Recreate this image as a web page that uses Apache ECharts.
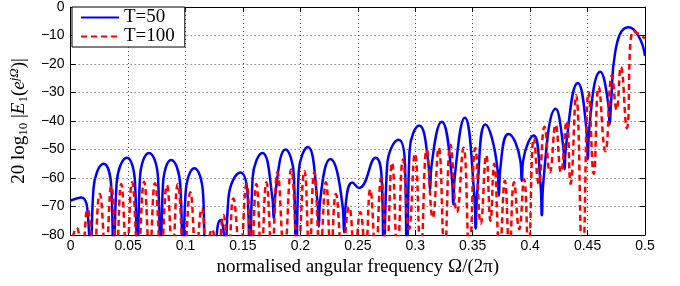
<!DOCTYPE html>
<html>
<head>
<meta charset="utf-8">
<script src="https://cdn.jsdelivr.net/npm/echarts@6/dist/echarts.min.js"></script>
<style>
html, body { margin: 0; padding: 0; background: #fff; }
#main { width: 680px; height: 286px; }
</style>
</head>
<body>
<div id="main"></div>
<script>
// legend names
var seriesNames = ['T=50', 'T=100'];

// T=50 : [normalised frequency, dB] (nulls below -80 are clipped)
var t50 = [
    [0, -67.9], [0.0092, -66.8], [0.0155, -75.8], [0.0173, -95],
    [0.0198, -64], [0.0288, -55], [0.0355, -64], [0.0374, -95],
    [0.0400, -62], [0.0490, -52.9], [0.0561, -62], [0.0581, -95],
    [0.0603, -60.2], [0.0682, -51.2], [0.0761, -60.2], [0.0783, -95],
    [0.0803, -62.7], [0.0875, -53.7], [0.0955, -62.7], [0.0978, -95],
    [0.1000, -65.6], [0.1077, -56.6], [0.1153, -65.6], [0.1175, -95],
    [0.1262, -95], [0.1272, -80], [0.1302, -74.8], [0.1334, -80], [0.1345, -95],
    [0.1374, -67], [0.1479, -58.1], [0.1542, -67], [0.1560, -95],
    [0.1584, -60], [0.1669, -51.2], [0.1756, -67], [0.1768, -74.2], [0.1781, -66],
    [0.1871, -50], [0.1943, -59], [0.1963, -95],
    [0.1985, -58], [0.2064, -49.1], [0.2148, -68], [0.2160, -77], [0.2172, -68],
    [0.2260, -53.3], [0.2368, -70], [0.2381, -79], [0.2393, -70],
    [0.2453, -61.6], [0.2510, -63.5], [0.2654, -52.9], [0.2710, -62], [0.2726, -95],
    [0.2755, -55.6], [0.2856, -46.6], [0.2911, -55.6], [0.2927, -95],
    [0.2950, -50.6], [0.3034, -41.6], [0.3117, -56], [0.3129, -63.9], [0.3141, -56],
    [0.3230, -40.3], [0.3319, -60], [0.3331, -69.3], [0.3343, -60],
    [0.3431, -38.9], [0.3514, -66], [0.3526, -77.7], [0.3538, -66],
    [0.3610, -41.2], [0.3716, -57], [0.3728, -66.2], [0.3740, -57],
    [0.3811, -44.6], [0.3915, -54], [0.3927, -61], [0.3939, -54],
    [0.4030, -45.1], [0.4090, -62], [0.4102, -73.1], [0.4114, -62],
    [0.4223, -35.7], [0.4288, -49], [0.4300, -56.9], [0.4312, -49],
    [0.4415, -26.7], [0.4490, -43], [0.4502, -53.5], [0.4514, -43],
    [0.4611, -22.7], [0.4680, -34], [0.4692, -41.2], [0.4704, -34],
    [0.4740, -16], [0.4856, -7.1], [0.4943, -10.1], [0.5, -17.2]
];

// T=100 : peaks and nulls
var t100 = [
    [0, -84],
    [0.0052, -77.5], [0.0098, -86], [0.0147, -71], [0.0200, -86],
    [0.0253, -65.6], [0.0305, -86], [0.0354, -62.7], [0.0398, -86],
    [0.0440, -62.1], [0.0488, -86], [0.0535, -61.5], [0.0587, -86],
    [0.0639, -61.3], [0.0687, -86], [0.0734, -61.8], [0.0786, -86],
    [0.0838, -62.5], [0.0886, -86], [0.0933, -62.1], [0.0988, -86],
    [0.1042, -65], [0.1092, -86], [0.1142, -70.6], [0.1186, -86],
    [0.1229, -78], [0.1280, -86], [0.1330, -73], [0.1373, -86],
    [0.1416, -67.2], [0.1474, -86], [0.1531, -62.1], [0.1574, -86],
    [0.1617, -62.1], [0.1660, -86], [0.1704, -61.5], [0.1752, -86],
    [0.1800, -58], [0.1860, -86], [0.1920, -57], [0.1978, -86],
    [0.2035, -57.5], [0.2078, -86], [0.2121, -58], [0.2172, -86],
    [0.2222, -61.5], [0.2266, -86], [0.2309, -65.6], [0.2366, -86],
    [0.2424, -70.2], [0.2473, -86], [0.2522, -72], [0.2565, -86],
    [0.2608, -64], [0.2655, -86], [0.2703, -60], [0.2750, -86],
    [0.2798, -54.6], [0.2845, -86], [0.2893, -53.5], [0.2945, -78],
    [0.2997, -51.5], [0.3048, -86], [0.3100, -50], [0.3152, -74],
    [0.3204, -49.4], [0.3255, -86], [0.3307, -48.3], [0.3363, -72],
    [0.3420, -49.4], [0.3471, -86], [0.3523, -49.5], [0.3570, -76],
    [0.3618, -52], [0.3655, -75], [0.3687, -55], [0.3735, -86],
    [0.3780, -61], [0.3820, -86], [0.3860, -61.5], [0.3905, -78],
    [0.3947, -60.4], [0.3985, -86], [0.4033, -46], [0.4075, -62],
    [0.4125, -42], [0.4172, -58], [0.4222, -41.3], [0.4268, -58],
    [0.4318, -40], [0.4352, -62], [0.4400, -31], [0.4456, -90],
    [0.4510, -29.8], [0.4554, -58.5], [0.4597, -28], [0.4655, -50.6],
    [0.4712, -24], [0.4752, -36], [0.4790, -21], [0.4842, -42.5],
    [0.4899, -8.4], [0.5, -11]
];

// axis ranges / ticks
var xRange = [0, 0.5];
var xStep = 0.05;
var yRange = [-80, 0];
var yStep = 10;

var myChart = echarts.init(document.getElementById('main'));

var dotted = { type: [1, 3], color: '#555', width: 1 };
var tickIn = { show: true, inside: true, length: 5, lineStyle: { color: '#000' } };
var blackLine = { show: true, onZero: false, lineStyle: { color: '#000', width: 1 } };

var option = {
    animation: false,
    grid: { left: 66, right: 35, top: 4, bottom: 51 },
    legend: {
        data: seriesNames,
        orient: 'vertical',
        left: 72,
        top: 7,
        padding: [1, 10, 1, 8],
        itemGap: 0,
        itemWidth: 38,
        itemHeight: 14,
        itemStyle: { opacity: 0 },
        backgroundColor: '#fff',
        borderColor: '#000',
        borderWidth: 1,
        borderRadius: 0,
        textStyle: { fontFamily: 'Liberation Serif', fontSize: 19, color: '#000', lineHeight: 16 }
    },
    xAxis: [{
        type: 'value',
        min: xRange[0], max: xRange[1], interval: xStep,
        axisLine: blackLine,
        axisTick: tickIn,
        splitLine: { show: true, lineStyle: dotted },
        axisLabel: { fontFamily: 'Liberation Sans', fontSize: 14, color: '#000', margin: 4 },
        name: 'normalised angular frequency \u03A9/(2\u03C0)',
        nameLocation: 'middle',
        nameGap: 23,
        nameTextStyle: { fontFamily: 'Liberation Serif', fontSize: 19, color: '#000' }
    }, {
        type: 'value', position: 'top',
        min: xRange[0], max: xRange[1], interval: xStep,
        axisLine: blackLine, axisTick: tickIn,
        axisLabel: { show: false }, splitLine: { show: false }
    }],
    yAxis: [{
        type: 'value',
        min: yRange[0], max: yRange[1], interval: yStep,
        axisLine: blackLine,
        axisTick: tickIn,
        splitLine: { show: true, lineStyle: dotted },
        axisLabel: {
            fontFamily: 'Liberation Sans', fontSize: 14, color: '#000', margin: 6,
            formatter: function(v) { return String(v).replace('-', '\u2212'); }
        },
        name: '{a|20 log}{s|10}{a| |}{i|E}{s|1}{a|(}{i|e}{u|j\u03A9}{a|)|}',
        nameLocation: 'middle',
        nameGap: 37,
        nameTextStyle: {
            color: '#000',
            rich: {
                a: { fontFamily: 'Liberation Serif', fontSize: 19, lineHeight: 22, verticalAlign: 'middle', color: '#000' },
                i: { fontFamily: 'Liberation Serif', fontStyle: 'italic', fontSize: 19, lineHeight: 22, verticalAlign: 'middle', color: '#000' },
                s: { fontFamily: 'Liberation Serif', fontSize: 13, lineHeight: 12, verticalAlign: 'bottom', color: '#000' },
                u: { fontFamily: 'Liberation Serif', fontStyle: 'italic', fontSize: 13, lineHeight: 12, verticalAlign: 'top', color: '#000' }
            }
        }
    }, {
        type: 'value', position: 'right',
        min: yRange[0], max: yRange[1], interval: yStep,
        axisLine: blackLine, axisTick: tickIn,
        axisLabel: { show: false }, splitLine: { show: false }
    }],
    series: [{
        name: seriesNames[0],
        type: 'line',
        data: t50,
        smooth: 0.5,
        showSymbol: false,
        symbol: 'none',
        clip: true,
        lineStyle: { color: '#0000ff', width: 2.5 },
        itemStyle: { color: '#0000ff' }
    }, {
        name: seriesNames[1],
        type: 'line',
        data: t100,
        smooth: 0.5,
        showSymbol: false,
        symbol: 'none',
        clip: true,
        lineStyle: { color: '#ff0000', width: 2.5, type: [6, 4] },
        itemStyle: { color: '#ff0000' }
    }]
};

myChart.setOption(option);
</script>
</body>
</html>
